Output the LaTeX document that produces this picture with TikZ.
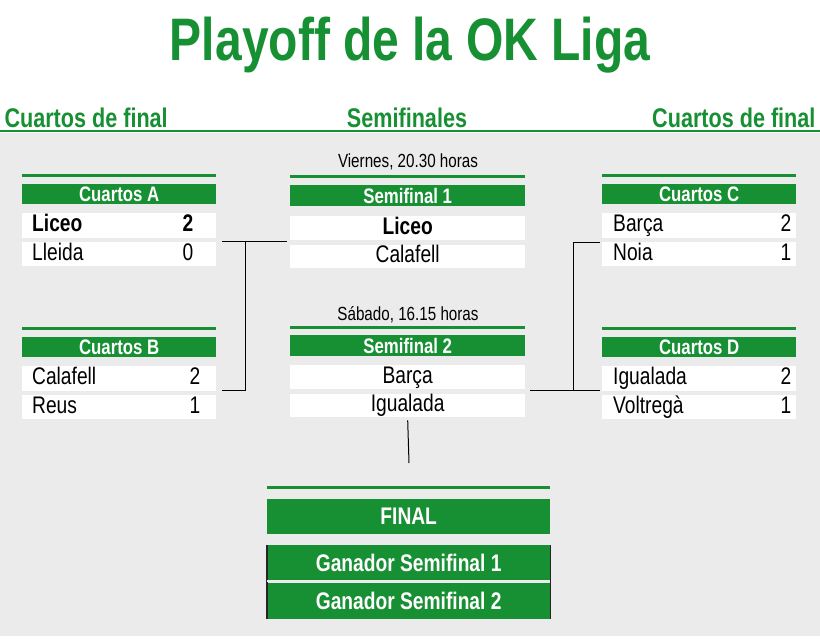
\documentclass[tikz,border=0pt]{standalone}
\usepackage{fontspec}
\setmainfont[FakeStretch=0.8]{Liberation Sans}
\definecolor{gr}{HTML}{178F33}
\definecolor{bg}{HTML}{EBEBEB}
\begin{document}
\begin{tikzpicture}[x=1pt,y=-1pt,
  hdr/.style={fill=gr,text=white,font=\bfseries\fontsize{21}{21}\selectfont,inner sep=0pt,anchor=north west},
  row/.style={fill=white,inner sep=0pt,anchor=north west,font=\fontsize{24}{24}\selectfont},
  rt/.style={font=\fontsize{24}{24}\selectfont,inner sep=0pt,text height=17pt,text depth=5pt},
  gline/.style={draw=gr,line width=3pt},
  conn/.style={draw=black,line width=1pt},
  ttl/.style={text=gr,font=\bfseries\fontsize{27}{27}\selectfont}]
\useasboundingbox (0,0) rectangle (820,640);
\fill[white] (0,0) rectangle (820,640);
\fill[bg] (0,133) rectangle (820,636);
\node[text=gr,font=\bfseries\fontsize{60}{60}\selectfont] (title) at (410,45) {Playoff de la OK Liga};
\node[ttl,anchor=west] (hl) at (1,118) {Cuartos de final};
\node[ttl] (hc) at (407,118) {Semifinales};
\node[ttl,anchor=east] (hr) at (819,118) {Cuartos de final};
\draw[draw=gr,line width=2pt] (0,131) -- (820,131);
\newcommand\qbox[4]{% x, y, name, title
  \draw[gline] (#1,#2-9) -- (#1+194,#2-9);
  \node[hdr,minimum width=194pt,minimum height=20pt] (#3h) at (#1,#2) {#4};
  \node[row,minimum width=194pt,minimum height=25pt] (#3a) at (#1,#2+29) {};
  \node[row,minimum width=194pt,minimum height=24pt] (#3b) at (#1,#2+58) {};}
\qbox{22}{184}{A}{Cuartos A}
\node[rt,anchor=west,font=\bfseries\fontsize{24}{24}\selectfont] (A1) at ([xshift=10pt]Aa.west) {Liceo};
\node[rt,anchor=east,font=\bfseries\fontsize{24}{24}\selectfont] (A2) at ([xshift=-23pt]Aa.east) {2};
\node[rt,anchor=west] (A3) at ([xshift=10pt]Ab.west) {Lleida};
\node[rt,anchor=east] (A4) at ([xshift=-23pt]Ab.east) {0};
\qbox{22}{337}{B}{Cuartos B}
\node[rt,anchor=west] (B1) at ([xshift=10pt]Ba.west) {Calafell};
\node[rt,anchor=east] (B2) at ([xshift=-16pt]Ba.east) {2};
\node[rt,anchor=west] (B3) at ([xshift=10pt]Bb.west) {Reus};
\node[rt,anchor=east] (B4) at ([xshift=-16pt]Bb.east) {1};
\qbox{602}{184}{C}{Cuartos C}
\node[rt,anchor=west] (C1) at ([xshift=11pt]Ca.west) {Barça};
\node[rt,anchor=east] (C2) at ([xshift=-5pt]Ca.east) {2};
\node[rt,anchor=west] (C3) at ([xshift=11pt]Cb.west) {Noia};
\node[rt,anchor=east] (C4) at ([xshift=-5pt]Cb.east) {1};
\qbox{602}{337}{D}{Cuartos D}
\node[rt,anchor=west] (D1) at ([xshift=11pt]Da.west) {Igualada};
\node[rt,anchor=east] (D2) at ([xshift=-5pt]Da.east) {2};
\node[rt,anchor=west] (D3) at ([xshift=11pt]Db.west) {Voltregà};
\node[rt,anchor=east] (D4) at ([xshift=-5pt]Db.east) {1};
% semifinals
\node[font=\fontsize{19}{19}\selectfont] (t1) at (408,162) {Viernes, 20.30 horas};
\draw[gline] (290,176) -- (525,176);
\node[hdr,minimum width=235pt,minimum height=21pt] (S1h) at (290,185) {Semifinal 1};
\node[row,minimum width=235pt,minimum height=24pt,text height=17pt,text depth=5pt,font=\bfseries\fontsize{24}{24}\selectfont] (S1a) at (290,216) {Liceo};
\node[row,minimum width=235pt,minimum height=23pt,text height=17pt,text depth=5pt] (S1b) at (290,245) {Calafell};
\node[font=\fontsize{19}{19}\selectfont] (t2) at (408,315) {Sábado, 16.15 horas};
\draw[gline] (290,327) -- (525,327);
\node[hdr,minimum width=235pt,minimum height=21pt] (S2h) at (290,335) {Semifinal 2};
\node[row,minimum width=235pt,minimum height=24pt,text height=17pt,text depth=5pt] (S2a) at (290,365) {Barça};
\node[row,minimum width=235pt,minimum height=23pt,text height=17pt,text depth=5pt] (S2b) at (290,394) {Igualada};
% connectors
\coordinate (lj) at (245,241); \coordinate (lb) at (245,390);
\coordinate (rj) at (573,242); \coordinate (rb) at (573,390);
\draw[conn] ([xshift=6pt]Ab.north east |- lj) -- ([xshift=-3pt]S1b.north west |- lj);
\draw[conn] (lj) -- (lb) -- ([xshift=6pt]Bb.north east |- lb);
\draw[conn] ([xshift=-2pt]Da.north west |- rj) -- (rj) -- (rb);
\draw[conn] ([xshift=5pt]S2b.north east |- rb) -- ([xshift=-2pt]Db.north west |- rb);
\coordinate (fd) at (409,463);
\draw[conn] ([yshift=-3pt]S2b.south) -- (fd);
% final
\draw[gline] (267,487) -- (550,487);
\node[hdr,minimum width=283pt,minimum height=35pt,font=\bfseries\fontsize{24}{24}\selectfont] (F) at (267,499) {FINAL};
\node[hdr,minimum width=283pt,minimum height=36pt,font=\bfseries\fontsize{24}{24}\selectfont] (G1) at (267,545) {Ganador Semifinal 1};
\node[hdr,minimum width=283pt,minimum height=36pt,font=\bfseries\fontsize{24}{24}\selectfont] (G2) at (267,583) {Ganador Semifinal 2};
\draw[black!85,line width=1.5pt] (G1.north west) -- (G2.south west);
\draw[black!85,line width=1.5pt] (G1.north east) -- (G2.south east);
\draw[white!85!gray,line width=2pt] (G1.south west) -- (G1.south east);
\end{tikzpicture}
\end{document}
